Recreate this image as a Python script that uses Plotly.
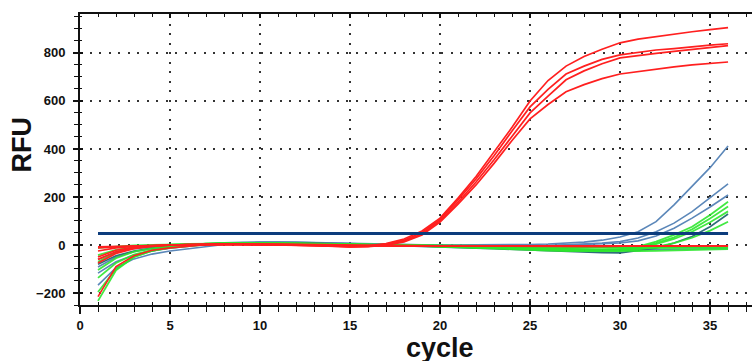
import plotly.graph_objects as go

cycles = list(range(1, 37))

red_amp = [
    [-60, -28, -12, -4, 0, 3, 4, 5, 5, 4, 3, 2, 0, -4, -6, -4, 6, 25, 58, 112, 195, 285, 385, 490, 600, 685, 745, 785, 815, 842, 857, 868, 878, 888, 897, 905],
    [-75, -35, -15, -6, -1, 2, 3, 4, 4, 3, 2, 1, -1, -5, -7, -5, 4, 20, 52, 106, 188, 275, 372, 475, 575, 648, 712, 745, 773, 792, 803, 812, 818, 826, 832, 838],
    [-50, -22, -10, -4, 0, 2, 3, 3, 3, 2, 1, 0, -2, -5, -7, -6, 1, 16, 46, 100, 178, 262, 355, 455, 550, 620, 688, 725, 755, 779, 790, 798, 806, 813, 820, 830],
    [-25, -12, -6, -2, 0, 2, 2, 2, 2, 1, 0, -1, -3, -6, -8, -7, -1, 13, 42, 95, 170, 250, 340, 435, 525, 585, 638, 668, 693, 712, 723, 733, 742, 750, 756, 762],
]
red_flat = [
    [-8, -5, -3, -2, -1, 0, 1, 1, 1, 0, 0, -1, -2, -3, -4, -5, -6, -6, -5, -4, -4, -3, -3, -4, -4, -5, -5, -5, -4, -4, -4, -3, -3, -3, -3, -3],
    [-12, -7, -4, -2, 0, 1, 2, 2, 1, 1, 0, 0, -1, -2, -3, -4, -5, -5, -5, -4, -4, -3, -4, -4, -5, -5, -6, -6, -6, -5, -5, -5, -5, -4, -4, -4],
    [-215, -90, -45, -22, -12, -5, 1, 4, 5, 5, 4, 3, 2, 1, 0, -1, -2, -3, -3, -3, -4, -4, -5, -5, -6, -6, -6, -6, -5, -5, -5, -5, -4, -4, -4, -4],
]
blue = [
    [-92, -50, -28, -15, -6, 0, 5, 9, 11, 12, 12, 11, 10, 8, 6, 4, 3, 2, 1, 0, 0, 0, 0, 1, 2, 4, 7, 12, 20, 33, 55, 97, 167, 243, 322, 412],
    [-117, -70, -42, -25, -13, -5, 2, 7, 10, 12, 12, 11, 10, 8, 6, 4, 2, 0, -1, -2, -3, -3, -3, -3, -2, -1, 1, 4, 8, 14, 29, 55, 91, 139, 196, 254],
    [-167, -95, -58, -38, -25, -15, -6, 2, 7, 10, 11, 11, 10, 8, 6, 4, 2, 0, -2, -3, -4, -5, -5, -5, -4, -3, -1, 1, 4, 8, 17, 37, 70, 112, 158, 208],
    [-60, -30, -15, -7, -2, 2, 5, 8, 10, 11, 11, 10, 9, 7, 5, 3, 1, -1, -3, -5, -7, -9, -11, -13, -15, -17, -18, -19, -20, -20, -20, -19, -18, -17, -16, -15],
]
teal = [-80, -45, -25, -13, -5, 0, 4, 7, 9, 10, 10, 9, 8, 6, 4, 2, 0, -2, -4, -7, -10, -13, -16, -19, -22, -25, -28, -30, -32, -33, -24, -13, 8, 35, 76, 129]
green = [
    [-12, -6, -2, 0, 2, 4, 5, 6, 6, 6, 5, 5, 4, 3, 2, 1, 0, -1, -2, -3, -5, -7, -9, -11, -13, -15, -17, -18, -19, -17, -7, 14, 42, 76, 125, 180],
    [-42, -20, -9, -3, 1, 4, 6, 7, 7, 7, 6, 5, 4, 3, 2, 1, 0, -2, -4, -6, -8, -10, -12, -14, -16, -18, -20, -21, -22, -20, -10, 8, 32, 65, 110, 160],
    [-104, -55, -28, -14, -5, 1, 5, 7, 8, 8, 7, 6, 5, 4, 3, 2, 0, -2, -4, -6, -9, -12, -14, -16, -18, -20, -22, -23, -24, -22, -12, 3, 25, 55, 95, 140],
    [-137, -75, -40, -20, -8, 0, 5, 8, 9, 9, 8, 7, 6, 5, 3, 2, 0, -2, -5, -8, -11, -14, -17, -19, -21, -23, -25, -26, -27, -25, -18, -8, 8, 30, 60, 97],
    [-196, -100, -50, -25, -10, -2, 4, 7, 8, 8, 7, 6, 5, 4, 3, 2, 0, -2, -4, -6, -8, -10, -12, -14, -16, -18, -20, -22, -24, -25, -25, -24, -23, -21, -19, -17],
    [-233, -105, -50, -24, -12, -4, 2, 6, 8, 8, 8, 7, 6, 5, 4, 2, 0, -1, -2, -3, -4, -5, -6, -7, -8, -9, -10, -11, -12, -12, -12, -11, -11, -10, -10, -10],
    [-70, -30, -12, -4, 0, 3, 5, 6, 6, 6, 5, 4, 3, 2, 1, 0, -1, -2, -3, -4, -5, -6, -7, -8, -9, -10, -11, -12, -13, -13, -13, -12, -12, -11, -11, -11],
]
threshold_x = [1, 36]
threshold_y = [48, 48]

x_ticks = [0, 5, 10, 15, 20, 25, 30, 35]
y_ticks = [-200, 0, 200, 400, 600, 800]

RED = "#ff1f1f"
GREEN = "rgba(45,230,45,0.9)"
BLUE = "#5b87b9"
TEAL = "#2f6f78"
THR = "#0c3c7c"

fig = go.Figure()


def add(ys, color, width=1.6):
    fig.add_trace(go.Scatter(x=cycles, y=ys, mode="lines",
                             line=dict(color=color, width=width),
                             showlegend=False, hoverinfo="skip"))


for s in blue:
    add(s, BLUE)
add(teal, TEAL)
for s in green:
    add(s, GREEN, 1.8)
for s in red_flat:
    add(s, RED)
for s in red_amp:
    add(s, RED, 1.7)

fig.add_trace(go.Scatter(x=threshold_x, y=threshold_y, mode="lines",
                         line=dict(color=THR, width=3), showlegend=False, hoverinfo="skip"))
# helper trace for overlay axes (crossing ticks)
fig.add_trace(go.Scatter(x=[None], y=[None], xaxis="x2", yaxis="y2", showlegend=False))

XR = [0, 37.33]
YR = [-250, 962]
tickfont = dict(family="Liberation Sans", size=13, color="#111", weight="bold")

fig.update_layout(
    width=752, height=361,
    margin=dict(l=80, r=0, t=14, b=56),
    paper_bgcolor="white", plot_bgcolor="white",
    xaxis=dict(range=XR, tickvals=x_ticks, ticks="outside", ticklen=7, tickwidth=1.5,
               tickcolor="#111", showline=True, linecolor="#111", linewidth=2, mirror=True,
               showgrid=True, gridcolor="#333", gridwidth=1.6, griddash="2px,7.5px",
               zeroline=False, tickfont=tickfont, ticklabelstandoff=0,
               minor=dict(dtick=1, ticks="outside", ticklen=5, tickcolor="#111", tickwidth=1.2, showgrid=False)),
    yaxis=dict(range=YR, tickvals=y_ticks, ticks="outside", ticklen=5, tickwidth=1.5,
               tickcolor="#111", showline=True, linecolor="#111", linewidth=2,
               showgrid=True, gridcolor="#333", gridwidth=1.6, griddash="2px,7.5px",
               zeroline=False, tickfont=tickfont, ticklabelstandoff=5,
               minor=dict(dtick=50, ticks="outside", ticklen=4, tickcolor="#111", tickwidth=1.2, showgrid=False)),
    xaxis2=dict(range=XR, overlaying="x", tickvals=x_ticks, ticks="inside", ticklen=4, tickwidth=1.5,
                tickcolor="#111", showticklabels=False, showgrid=False, zeroline=False,
                showline=True, linecolor="#111", linewidth=2, mirror="ticks",
                minor=dict(dtick=1, ticks="inside", ticklen=3, tickcolor="#111", tickwidth=1.2)),
    yaxis2=dict(range=YR, overlaying="y", tickvals=y_ticks, ticks="inside", ticklen=3, tickwidth=1.5,
                tickcolor="#111", showticklabels=False, showgrid=False, zeroline=False,
                showline=False,
                minor=dict(dtick=50, ticks="inside", ticklen=2, tickcolor="#111", tickwidth=1.2)),
    annotations=[
        dict(text="RFU", xref="paper", yref="paper", x=-0.087, y=0.55, xanchor="center", yanchor="middle",
             textangle=-90, showarrow=False,
             font=dict(family="Liberation Sans", size=27, color="#111", weight="bold")),
        dict(text="cycle", xref="paper", yref="paper", x=0.536, y=-0.09, xanchor="center", yanchor="top",
             showarrow=False,
             font=dict(family="Liberation Sans", size=27, color="#111", weight="bold")),
    ],
)

fig.write_html("out.html", config={"displayModeBar": False},
               post_script="document.body.style.margin='0';")
